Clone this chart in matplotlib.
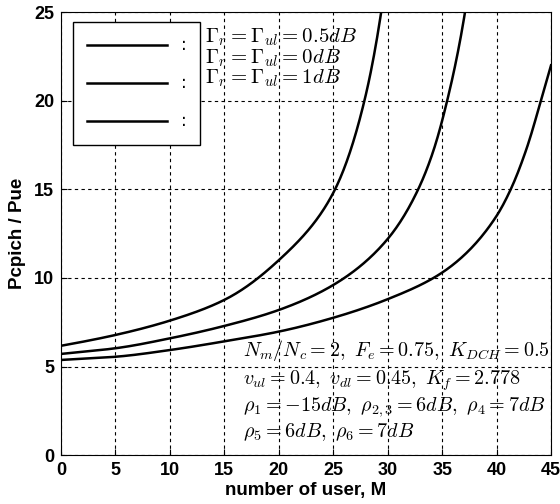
import numpy as np
import matplotlib.pyplot as plt

plt.rcParams['mathtext.fontset'] = 'cm'

# values
x_a = [0, 5, 10, 15, 20, 25, 27.9, 29.4]
y_a = [6.17, 6.78, 7.59, 8.76, 11.0, 14.8, 20.1, 25.0]

x_b = [0, 5, 10, 15, 20, 25, 30, 32.8, 34.1, 35.5, 37.1]
y_b = [5.71, 6.03, 6.59, 7.29, 8.19, 9.6, 12.2, 15.0, 17.0, 20.1, 25.0]

x_c = [0, 5, 10, 15, 20, 25, 30, 35, 40, 41.3, 42.7, 44.2, 45]
y_c = [5.37, 5.55, 5.93, 6.42, 6.97, 7.75, 8.8, 10.3, 13.5, 15.0, 17.2, 20.3, 22.0]

legend_texts = [r'$\Gamma_r = \Gamma_{ul} = 0.5dB$',
                r'$\Gamma_r = \Gamma_{ul} = 0dB$',
                r'$\Gamma_r = \Gamma_{ul} = 1dB$']

param_lines = [r'$N_m/N_c = 2,\ F_e = 0.75,\ K_{DCH} = 0.5$',
               r'$v_{ul} = 0.4,\ v_{dl} = 0.45,\ K_f = 2.778$',
               r'$\rho_1 = -15dB,\ \rho_{2,3} = 6dB,\ \rho_4 = 7dB$',
               r'$\rho_5 = 6dB,\ \rho_6 = 7dB$']


def pchip(xs, ys, xx):
    # monotone cubic through the read points, just to draw a smooth curve
    xs = np.asarray(xs, float)
    ys = np.asarray(ys, float)
    h = np.diff(xs)
    d = np.diff(ys) / h
    m = np.zeros_like(ys)
    for k in range(1, len(xs) - 1):
        if d[k - 1] * d[k] > 0:
            w1 = 2 * h[k] + h[k - 1]
            w2 = h[k] + 2 * h[k - 1]
            m[k] = (w1 + w2) / (w1 / d[k - 1] + w2 / d[k])
    m[0] = d[0]
    m[-1] = d[-1]
    idx = np.clip(np.searchsorted(xs, xx) - 1, 0, len(xs) - 2)
    t = (xx - xs[idx]) / h[idx]
    h00 = 2 * t**3 - 3 * t**2 + 1
    h10 = t**3 - 2 * t**2 + t
    h01 = -2 * t**3 + 3 * t**2
    h11 = t**3 - t**2
    return (h00 * ys[idx] + h10 * h[idx] * m[idx]
            + h01 * ys[idx + 1] + h11 * h[idx] * m[idx + 1])


fig = plt.figure(figsize=(5.6, 5.04), dpi=100)
ax = fig.add_axes([0.109, 0.097, 0.875, 0.879])

for xs, ys in [(x_a, y_a), (x_b, y_b), (x_c, y_c)]:
    xx = np.linspace(xs[0], xs[-1], 400)
    # curves blow up like 1/(x0 - x), so interpolate 1/y which is nearly straight
    yy = 1.0 / pchip(xs, 1.0 / np.asarray(ys), xx)
    ax.plot(xx, yy, color='black', lw=1.8, label=':')

ax.set_xlim(0, 45)
ax.set_ylim(0, 25)
ax.set_xticks(np.arange(0, 46, 5))
ax.set_yticks(np.arange(0, 26, 5))
ax.grid(True, color='black', linestyle=(0, (3, 3)), lw=0.8)
ax.tick_params(direction='in', length=4, labelsize=13, pad=5)
for lab in ax.get_xticklabels() + ax.get_yticklabels():
    lab.set_fontweight('bold')
    lab.set_family(['Liberation Sans Narrow', 'Liberation Sans'])

ax.set_xlabel('number of user, M', fontsize=13.5, fontweight='bold',
              family='Liberation Sans', labelpad=2)
ax.set_ylabel('Pcpich / Pue', fontsize=13.5, fontweight='bold',
              family='Liberation Sans', labelpad=6)

leg = ax.legend(loc='upper left', bbox_to_anchor=(0.0245, 0.977), fontsize=12,
                handlelength=4.8, labelspacing=1.2, borderpad=0.85,
                borderaxespad=0, fancybox=False, framealpha=1, edgecolor='black')
leg.get_frame().set_linewidth(1.0)

for i, t in enumerate(legend_texts):
    ax.text(0.294, [0.944, 0.896, 0.851][i], t, transform=ax.transAxes,
            fontsize=15, va='center', ha='left')

for i, t in enumerate(param_lines):
    ax.text(0.371, [0.237, 0.167, 0.108, 0.052][i], t, transform=ax.transAxes,
            fontsize=14.5, va='center', ha='left')

fig.savefig('out.png', dpi=100)
